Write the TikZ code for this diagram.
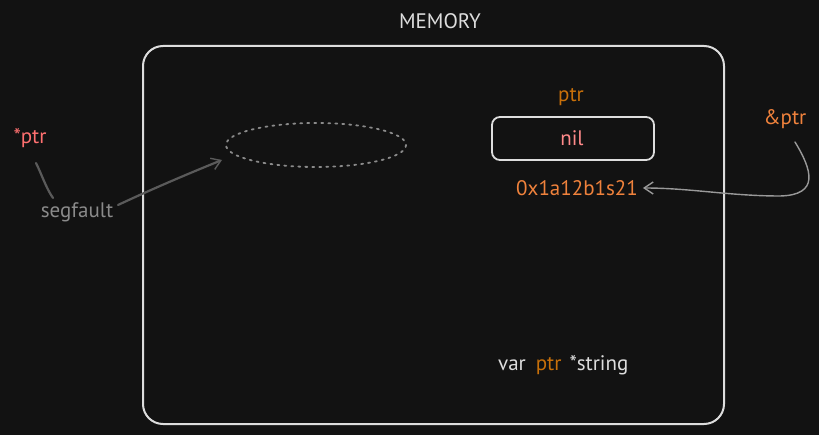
\documentclass[tikz,border=0pt]{standalone}
\usepackage{fontspec}
\setmainfont{PT Sans}
\usetikzlibrary{arrows.meta}
\definecolor{bg}{HTML}{121212}
\definecolor{frame}{HTML}{DDDDDD}
\definecolor{dimgray}{HTML}{8A8A8A}
\definecolor{linegray}{HTML}{5A5A5A}
\definecolor{darkorange}{HTML}{C8700A}
\definecolor{liteorange}{HTML}{F0823C}
\definecolor{pinkred}{HTML}{FF7070}
\definecolor{pink}{HTML}{FF8A8A}
\tikzset{
  lbl/.style={font=\fontsize{21}{24}\selectfont, inner sep=1pt},
  conn/.style={line width=2.2pt, line cap=round},
  tip/.style={-{Straight Barb[length=9pt,width=12pt,line width=1.4pt]}}
}
\begin{document}
\begin{tikzpicture}[x=1pt,y=-1pt]
\fill[bg] (0,0) rectangle (819,435);
\useasboundingbox (0,0) rectangle (819,435);
% memory frame
\node[draw=frame, line width=2pt, rounded corners=20pt, minimum width=581pt, minimum height=378pt, inner sep=0pt] (mem) at (433.5,235) {};
\node[lbl, text=frame] (title) at (440,21) {MEMORY};
% ellipse
\draw[dimgray, line width=1.8pt, dash pattern=on 2pt off 5pt, line cap=round] (316,145) ellipse [x radius=90, y radius=22];
\coordinate (ell) at (222,160);
% ptr box
\node[lbl, text=darkorange] (ptrlbl) at (571,97) {ptr};
\node[draw=frame, line width=1.8pt, rounded corners=8pt, minimum width=162pt, minimum height=43pt, inner sep=0pt] (box) at (573,138.5) {};
\node[lbl, text=pink] (nil) at (572,138) {nil};
\node[lbl, text=liteorange] (addr) at (577,188) {0x1a12b1s21};
\node[lbl, text=liteorange] (amp) at (785,119) {\&ptr};
\node[lbl, text=pinkred] (star) at (30,138) {*ptr};
\node[lbl, text=dimgray] (seg) at (77,212) {segfault};
\node[lbl, anchor=west] (decl) at (497,365) {\textcolor{frame}{var}\hspace{10pt}\textcolor{darkorange}{ptr}\hspace{8pt}\textcolor{frame}{*string}};
% connectors
\draw[linegray, conn] (36,163) .. controls (42,175) and (46,188) .. (53,198);
\draw[linegray, conn, tip] (118,205) .. controls (150,190) and (185,175) .. (ell);
\draw[color=gray!80, line width=1.4pt, line cap=round, tip] (795,142) .. controls (812,170) and (820,195) .. (780,196) .. controls (730,196) and (690,188) .. ([xshift=4pt]addr.east);
\end{tikzpicture}
\end{document}
